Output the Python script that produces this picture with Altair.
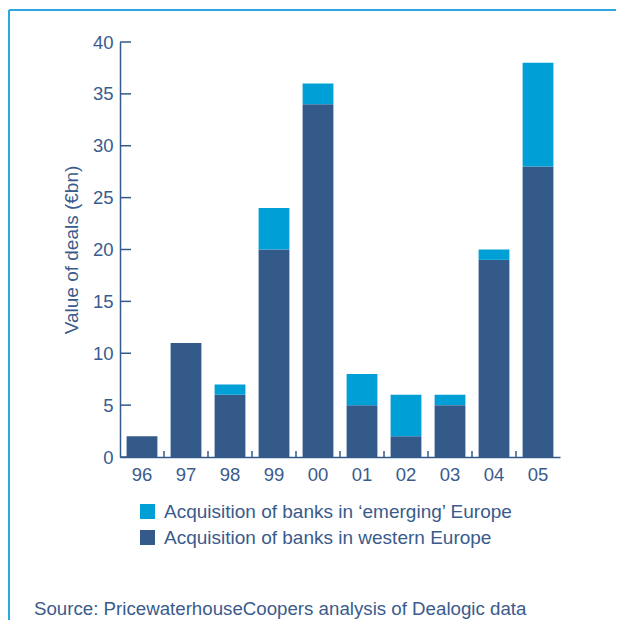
import altair as alt
import pandas as pd

years = ["96", "97", "98", "99", "00", "01", "02", "03", "04", "05"]
western = [2, 11, 6, 20, 34, 5, 2, 5, 19, 28]
emerging = [0, 0, 1, 4, 2, 3, 4, 1, 1, 10]
series = ["Acquisition of banks in \u2018emerging\u2019 Europe",
          "Acquisition of banks in western Europe"]
y_ticks = [0, 5, 10, 15, 20, 25, 30, 35, 40]
source = ["Source: PricewaterhouseCoopers analysis of Dealogic data"]

TEXT = "#3a5b8c"
DARK = "#345a8a"
LIGHT = "#009fd6"
FRAME = "#2ca7df"
FONT = "Liberation Sans"

rows = []
for y, w, e in zip(years, western, emerging):
    rows.append({"year": y, "value": w, "series": series[1], "ord": 0})
    rows.append({"year": y, "value": e, "series": series[0], "ord": 1})
df = pd.DataFrame(rows)

ytitle = "Value of deals (\u20acbn)"
xscale = alt.Scale(domain=years, paddingInner=0.3, paddingOuter=0.15)
yscale = alt.Scale(domain=[0, 40], nice=False)

bars = alt.Chart(df).mark_bar().encode(
    x=alt.X("year:N", sort=years, scale=xscale, title=None,
            axis=alt.Axis(ticks=False, labelAngle=0, labelFontSize=18.5, labelPadding=8,
                          labelColor=TEXT, domainColor=DARK, domainWidth=1.5, labelFont=FONT)),
    y=alt.Y("value:Q", stack="zero", scale=yscale, title=ytitle,
            axis=alt.Axis(values=y_ticks, ticks=False, grid=False, labelFontSize=18.5,
                          labelPadding=7, labelColor=TEXT, domainColor=DARK, domainWidth=1.5,
                          titleFontSize=19, titleFontWeight="normal", titleColor=TEXT,
                          titlePadding=11, labelFont=FONT, titleFont=FONT)),
    color=alt.Color("series:N", scale=alt.Scale(domain=series, range=[LIGHT, DARK]),
                    legend=alt.Legend(title=None, orient="none", legendX=18, legendY=460,
                                      symbolType="square", symbolSize=225, symbolStrokeWidth=0,
                                      labelFontSize=19, labelColor=TEXT, labelFont=FONT,
                                      labelOffset=7, rowPadding=6, padding=0,
                                      labelLimit=500)),
    order=alt.Order("ord:Q", sort="ascending"),
)

ytick_df = pd.DataFrame({"value": y_ticks})
yt = alt.Chart(ytick_df).mark_rule(color=DARK, strokeWidth=1.5).encode(
    y=alt.Y("value:Q", scale=yscale, title=ytitle),
    x=alt.value(0), x2=alt.value(11),
)

xtick_df = pd.DataFrame({"year": years[:-1]})
xt = alt.Chart(xtick_df).mark_rule(color=DARK, strokeWidth=1.5, xOffset=6.6).encode(
    x=alt.X("year:N", sort=years, scale=xscale, bandPosition=1, title=None),
    y=alt.value(415), y2=alt.value(409),
)

frame_df = pd.DataFrame({"k": ["a"]})
top_line = alt.Chart(frame_df).mark_rule(color=FRAME, strokeWidth=2).encode(
    x=alt.value(-111), x2=alt.value(520), y=alt.value(-32))
left_line = alt.Chart(frame_df).mark_rule(color=FRAME, strokeWidth=2).encode(
    x=alt.value(-111), y=alt.value(-32), y2=alt.value(600))

src = alt.Chart(pd.DataFrame({"t": source})).mark_text(
    align="left", baseline="alphabetic", fontSize=18.7, color=TEXT, font=FONT
).encode(text="t:N", x=alt.value(-86), y=alt.value(573))

chart = alt.layer(bars, yt, xt, top_line, left_line, src).properties(
    width=440, height=415,
    autosize=alt.AutoSizeParams(type="none"),
    padding={"left": 112, "top": 34, "right": 56, "bottom": 163},
).configure_view(stroke=None)

chart.save("out.html", embed_options={"renderer": "svg", "actions": False})
